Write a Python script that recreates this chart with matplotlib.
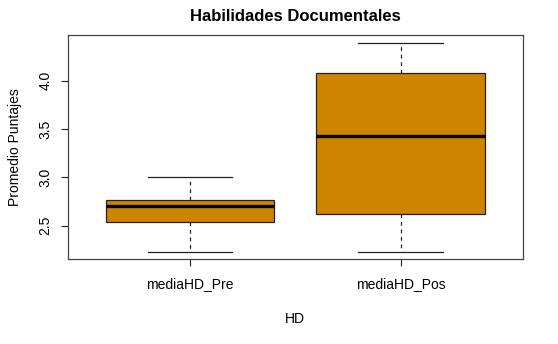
import matplotlib
matplotlib.use("Agg")
import matplotlib.pyplot as plt

plt.rcParams['font.family'] = ['Liberation Sans', 'DejaVu Sans']

# box statistics
labels = ["mediaHD_Pre", "mediaHD_Pos"]
whislo = [2.23, 2.23]
q1 = [2.54, 2.617]
med = [2.70, 3.427]
q3 = [2.762, 4.083]
whishi = [3.0, 4.393]

stats = [dict(label=l, whislo=a, q1=b, med=c, q3=d, whishi=e)
         for l, a, b, c, d, e in zip(labels, whislo, q1, med, q3, whishi)]

fig = plt.figure(figsize=(5.58, 3.44), dpi=100)
ax = fig.add_axes([0.1213, 0.2462, 0.8154, 0.6521])

ax.bxp(stats, positions=[1, 2], widths=0.8, showfliers=False, patch_artist=True,
       boxprops=dict(facecolor='#CD8500', edgecolor='#222222', linewidth=0.9),
       medianprops=dict(color='black', linewidth=2.4),
       whiskerprops=dict(color='#222222', linestyle=(0, (3, 3)), linewidth=0.9),
       capprops=dict(color='#222222', linewidth=0.9),
       capwidths=0.4)

ax.set_xlim(0.42, 2.58)
ax.set_ylim(2.151, 4.473)
ax.set_yticks([2.5, 3.0, 3.5, 4.0])
ax.set_yticklabels(["2.5", "3.0", "3.5", "4.0"], rotation=90, va='center')
ax.tick_params(axis='both', labelsize=10, color='#222222', length=5, width=0.8)
ax.tick_params(axis='x', pad=8)
ax.tick_params(axis='y', pad=6)
for s in ax.spines.values():
    s.set_color('#444444')
    s.set_linewidth(0.9)

ax.set_title("Habilidades Documentales", fontsize=12, fontweight='bold', pad=10)
ax.set_xlabel("HD", fontsize=10, labelpad=15)
ax.set_ylabel("Promedio Puntajes", fontsize=10, labelpad=12)

fig.savefig("out.png", dpi=100)
